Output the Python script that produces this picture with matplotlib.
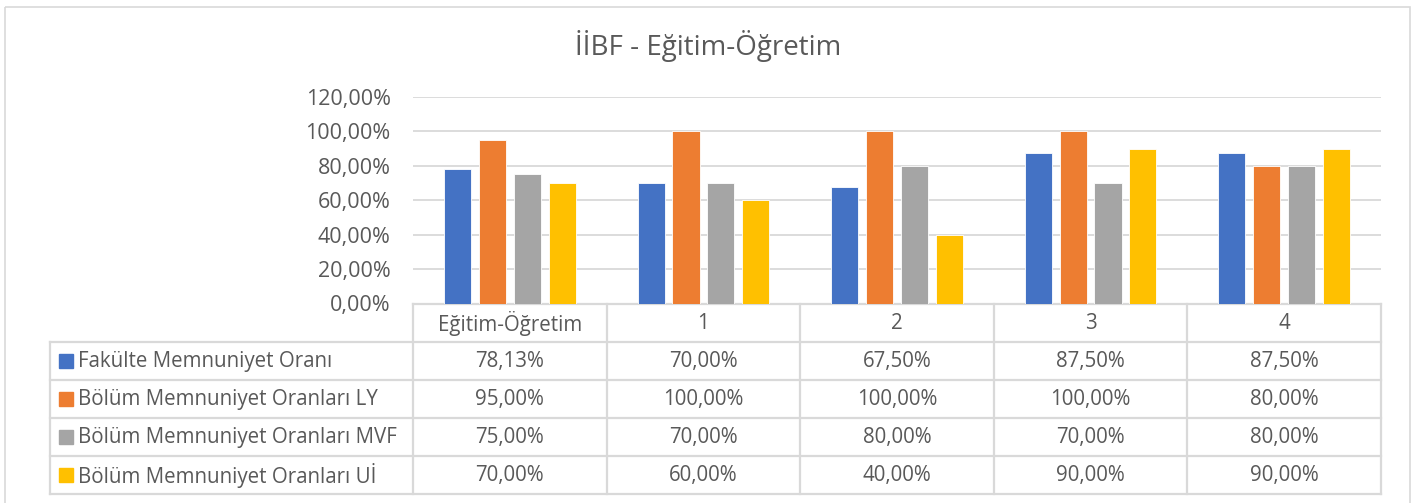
import matplotlib
matplotlib.use("Agg")
import matplotlib.pyplot as plt
from matplotlib.patches import Rectangle
import numpy as np

plt.rcParams['font.family'] = ['Open Sans', 'DejaVu Sans']

title = "İİBF - Eğitim-Öğretim"
categories = ["Eğitim-Öğretim", "1", "2", "3", "4"]
series_names = ["Fakülte Memnuniyet Oranı", "Bölüm Memnuniyet Oranları LY",
                "Bölüm Memnuniyet Oranları MVF", "Bölüm Memnuniyet Oranları Uİ"]
fakulte = [0.7813, 0.70, 0.675, 0.875, 0.875]
bolum_ly = [0.95, 1.00, 1.00, 1.00, 0.80]
bolum_mvf = [0.75, 0.70, 0.80, 0.70, 0.80]
bolum_ui = [0.70, 0.60, 0.40, 0.90, 0.90]
series = [fakulte, bolum_ly, bolum_mvf, bolum_ui]
colors = ["#4472C4", "#ED7D31", "#A5A5A5", "#FFC000"]
yticks = [0, 0.2, 0.4, 0.6, 0.8, 1.0, 1.2]

W, H = 1416, 503
TXT = "#595959"
GRID = "#D9D9D9"
FS = 14.8
fig = plt.figure(figsize=(W / 100, H / 100), dpi=100)

# overlay axes in pixel coords
ov = fig.add_axes([0, 0, 1, 1], zorder=0)
ov.set_xlim(0, W)
ov.set_ylim(H, 0)
ov.axis('off')

# chart border
ov.add_patch(Rectangle((4.5, 6.5), 1405, 510, fill=False, ec=GRID, lw=1.2))

L, R, T, B = 413, 1381, 97, 303.5
ax = fig.add_axes([L / W, 1 - B / H, (R - L) / W, (B - T) / H], zorder=1)
ax.patch.set_alpha(0)
n = len(categories)
x = np.arange(n)
bw, pitch = 0.14, 0.18
for i, (vals, c) in enumerate(zip(series, colors)):
    ax.bar(x + (i - 1.5) * pitch, vals, bw, color=c, edgecolor='white', linewidth=0.6, zorder=3)
ax.set_xlim(-0.5, n - 0.5)
ax.set_ylim(0, 1.2)
ax.set_yticks(yticks)
ax.set_yticklabels([f"{v*100:.2f}%".replace('.', ',') for v in yticks], color=TXT, fontsize=15.5)
ax.yaxis.grid(True, color=GRID, lw=1.3, zorder=0)
ax.set_axisbelow(True)
ax.tick_params(axis='y', length=0, pad=16)
ax.set_xticks([])
for s in ax.spines.values():
    s.set_visible(False)

fig.text(708 / W, 1 - 46 / H, title, ha='center', va='center', fontsize=20, color=TXT)

# data table
def px_x(xd):
    return ax.transData.transform((xd, 0))[0]

col_edges = [px_x(k - 0.5) for k in range(n + 1)]
row_edges = [303.5 + 38 * k for k in range(6)]
lw = 1.6
# header row
ov.plot([col_edges[0], col_edges[-1]], [row_edges[0], row_edges[0]], color=GRID, lw=lw)
for ce in col_edges:
    ov.plot([ce, ce], [row_edges[0], row_edges[-1]], color=GRID, lw=lw)
LEG = 50
for re in row_edges[1:]:
    ov.plot([LEG, col_edges[-1]], [re, re], color=GRID, lw=lw)
ov.plot([LEG, LEG], [row_edges[1], row_edges[-1]], color=GRID, lw=lw)

for j, cat in enumerate(categories):
    ov.text((col_edges[j] + col_edges[j + 1]) / 2, (row_edges[0] + row_edges[1]) / 2 + 1, cat,
            ha='center', va='center', fontsize=FS, color=TXT)
for i, (name, vals, c) in enumerate(zip(series_names, series, colors)):
    yc = (row_edges[i + 1] + row_edges[i + 2]) / 2
    ov.add_patch(Rectangle((59, yc - 7), 14, 14, color=c))
    ov.text(78, yc + 1, name, ha='left', va='center', fontsize=FS, color=TXT)
    for j, v in enumerate(vals):
        ov.text((col_edges[j] + col_edges[j + 1]) / 2, yc + 1, f"{v*100:.2f}%".replace('.', ','),
                ha='center', va='center', fontsize=FS, color=TXT)

fig.savefig("out.png", dpi=100)
